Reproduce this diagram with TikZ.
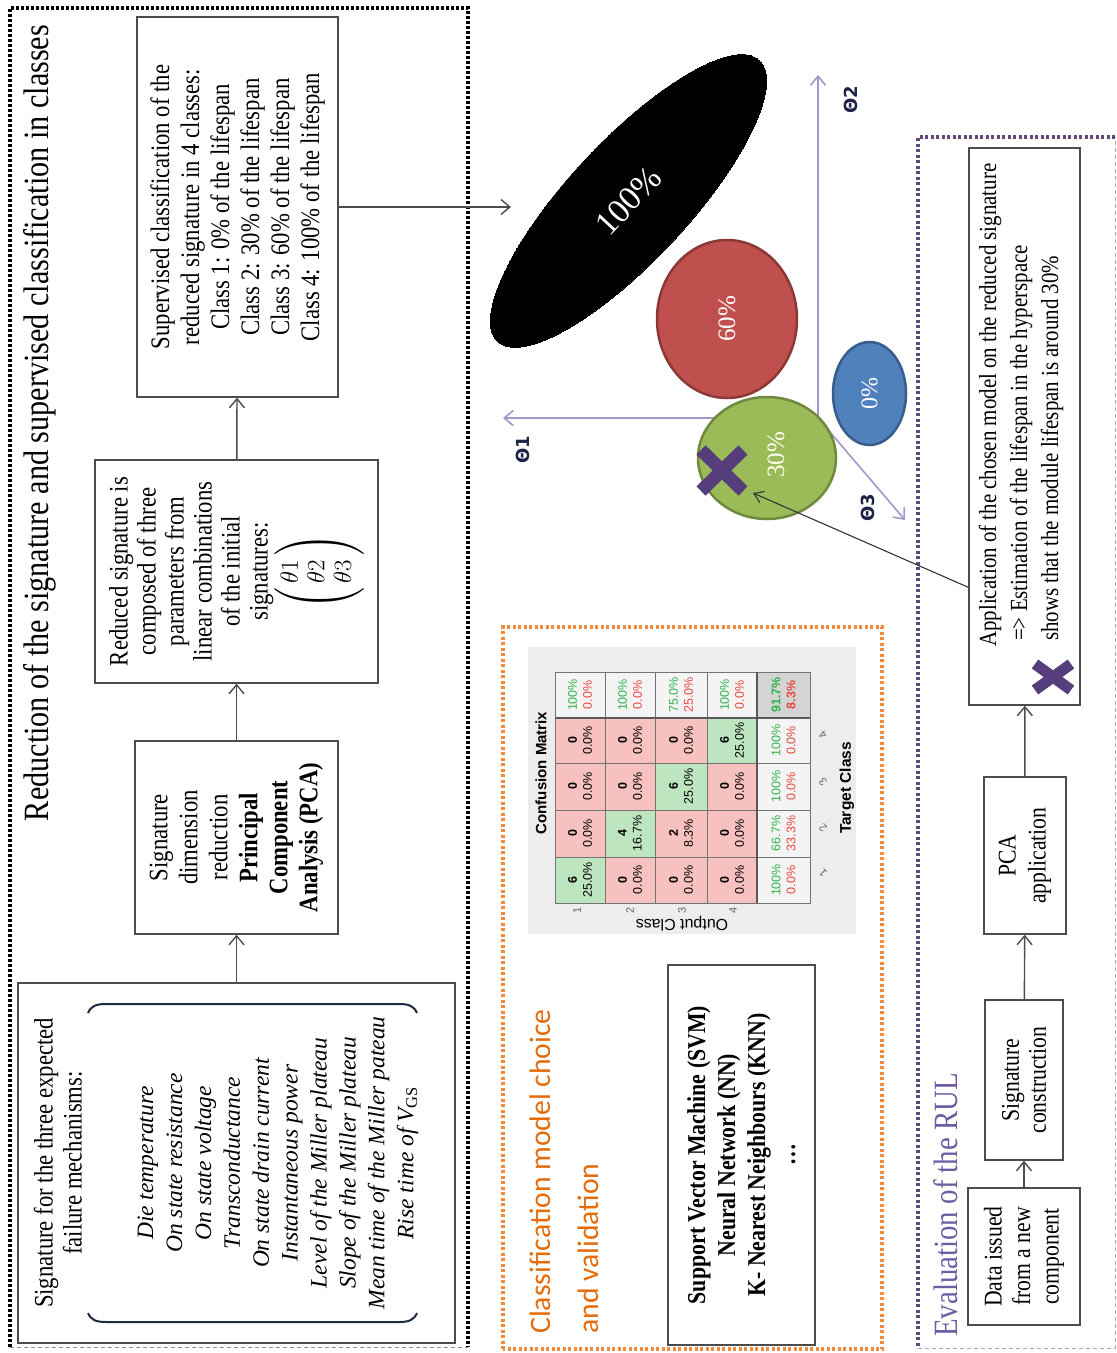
\documentclass[tikz,border=0pt]{standalone}
\usepackage{fontspec}
\usepackage{amsmath}
\setmainfont{Liberation Serif}
\newfontfamily\cond[FakeStretch=0.85]{Liberation Serif}
\newfontfamily\carl{Carlito}
\newfontfamily\lsans{Liberation Sans}
\newfontfamily\dvs{DejaVu Sans}
\usetikzlibrary{arrows.meta,calc,shapes.geometric}
\definecolor{frameO}{HTML}{F08A3C}
\definecolor{textO}{HTML}{E46C0A}
\definecolor{frameP}{HTML}{5F497A}
\definecolor{textP}{HTML}{6F5DA3}
\definecolor{axisP}{HTML}{A496C8}
\definecolor{crossP}{HTML}{563D7C}
\definecolor{redF}{HTML}{C0504D}
\definecolor{redD}{HTML}{8C3836}
\definecolor{greenF}{HTML}{9BBB59}
\definecolor{greenD}{HTML}{71893F}
\definecolor{blueF}{HTML}{4F81BD}
\definecolor{blueD}{HTML}{385D8A}
\definecolor{cmG}{HTML}{BDE5BF}
\definecolor{cmR}{HTML}{F6C1BE}
\definecolor{cmS}{HTML}{F4F4F4}
\definecolor{cmT}{HTML}{D4D4D4}
\definecolor{cmGt}{HTML}{2DB34A}
\definecolor{cmRt}{HTML}{E8463F}
\definecolor{thetaC}{HTML}{1E2347}
\definecolor{brkC}{HTML}{1F2A44}
\begin{document}
\begin{tikzpicture}[x=1pt,y=-1pt,
  box/.style={draw=black!70, line width=1.4pt, rotate=90, inner sep=0pt, align=center,
    font=\cond\fontsize{26.7}{30}\selectfont},
  arr/.style={draw=black!70, line width=1.4pt, -{Straight Barb[length=9pt,width=15pt]}},
  thinarr/.style={draw=black!80, line width=1.1pt, -{Straight Barb[length=9pt,width=12pt]}},
  axisline/.style={draw=axisP, line width=1.6pt, -{Straight Barb[length=9pt,width=15pt]}},
  rtext/.style={rotate=90, inner sep=0pt},
  thlab/.style={rotate=90, text=thetaC, font=\dvs\bfseries\fontsize{18}{18}\selectfont},
  blob/.style={ellipse, inner sep=0pt, line width=2.5pt},
  xmark/.style={draw=crossP, line width=13pt},
  cmtxt/.style={rotate=90, align=center, inner sep=0pt, font=\lsans\fontsize{12.5}{15}\selectfont},
  tick/.style={text=black!60, inner sep=0pt, font=\lsans\fontsize{11}{11}\selectfont},
  frameK/.style={draw=black, line width=3.5pt, dash pattern=on 3pt off 2pt},
  frameOr/.style={draw=frameO, line width=3.5pt, dash pattern=on 3pt off 2.5pt},
  framePu/.style={draw=frameP, line width=3.5pt, dash pattern=on 3pt off 2.5pt},
  thinframe/.style={line width=0.8pt, dash pattern=on 4pt off 3pt}
]
\useasboundingbox (0,0) rectangle (1117,1353);
\fill[white] (0,0) rectangle (1117,1353);

% ---------- frames ----------
\draw[frameK] (10,1347) -- (10,8) -- (468,8) -- (468,1347);
\draw[thinframe, draw=black!45] (10,1347) -- (468,1347);
\draw[frameOr] (503,1349) rectangle (882,627);
\draw[framePu] (1115,137) -- (918,137) -- (918,1348);
\draw[thinframe, draw=frameP!50] (918,1348) -- (1115,1348) -- (1115,137);

% ---------- left frame ----------
\node[rtext, font=\cond\fontsize{35.5}{40}\selectfont] (title) at (40,423)
  {Reduction of the signature and supervised classification in classes};

\node[box, minimum width=360pt, minimum height=437pt] (sig) at (236.5,1163) {};
\node[rtext, align=center, font=\cond\fontsize{26.7}{29}\selectfont] (sigtitle) at (58,1163)
  {Signature for the three expected\\failure mechanisms:};
\node[rtext, align=center, font=\itshape\fontsize{23.5}{28.9}\selectfont] (siglist) at (278,1163)
  {Die temperature\\On state resistance\\On state voltage\\Transconductance\\On state drain current\\Instantaneous power\\Level of the Miller plateau\\Slope of the Miller plateau\\Mean time of the Miller pateau\\Rise time of V\textsubscript{\upshape GS}};
\draw[draw=brkC, line width=2pt] (88,1013) .. controls (91,1006) and (96,1004) .. (106,1004) -- (399,1004) .. controls (409,1004) and (414,1006) .. (417,1013);
\draw[draw=brkC, line width=2pt] (88,1313) .. controls (91,1320) and (96,1322) .. (106,1322) -- (399,1322) .. controls (409,1322) and (414,1320) .. (417,1313);

\node[box, minimum width=193pt, minimum height=203pt] (dimred) at (236.5,837.5)
  {Signature\\dimension\\reduction\\\textbf{Principal}\\\textbf{Component}\\\textbf{Analysis (PCA)}};

\node[box, minimum width=223pt, minimum height=283pt, font=\cond\fontsize{26.7}{28}\selectfont] (reduced) at (236.5,571.5)
  {Reduced signature is\\composed of three\\parameters from\\linear combinations\\of the initial\\signatures:\\
   $\renewcommand\arraystretch{0.95}\left(\begin{array}{@{\,}c@{\,}}\theta 1\\ \theta 2\\ \theta 3\end{array}\right)$};

\node[box, minimum width=380pt, minimum height=201pt] (superv) at (237.5,207)
  {Supervised classification of the\\reduced signature in 4 classes:\\Class 1: 0\% of the lifespan\\Class 2: 30\% of the lifespan\\Class 3: 60\% of the lifespan\\Class 4: 100\% of the lifespan};

\draw[arr] (sig) -- (dimred);
\draw[arr] (dimred) -- (reduced);
\draw[arr] (reduced) -- (superv);
\coordinate (tipA) at (511,207);
\draw[arr] (superv) -- (tipA);

% ---------- hyperspace ----------
\coordinate (O) at (818,418);
\coordinate (t1) at (503,418);
\coordinate (t2) at (818,75);
\coordinate (t3) at (905,520);
\draw[axisline] (O) -- (t1);
\draw[axisline] (O) -- (t2);
\draw[axisline] (O) -- (t3);
\node[thlab] (th1) at (523,450) {Θ1};
\node[thlab] (th2) at (851,100) {Θ2};
\node[thlab] (th3) at (868,508) {Θ3};

\node[blob, fill=black, draw=black, line width=0pt, rotate=47, minimum width=384pt, minimum height=120pt,
  text=white, font=\fontsize{34}{34}\selectfont] (c100) at (628.5,201) {100\%};
\node[blob, fill=redF, draw=redD, rotate=90, minimum width=158pt, minimum height=140pt,
  text=white, font=\fontsize{25}{25}\selectfont] (c60) at (727,319) {60\%};
\node[blob, fill=blueF, draw=blueD, rotate=90, minimum width=103pt, minimum height=73pt,
  text=white, font=\fontsize{24}{24}\selectfont] (c0) at (869.5,393.5) {0\%};
\node[blob, fill=greenF, draw=greenD, rotate=90, minimum width=122pt, minimum height=138pt] (c30) at (767,458) {};
\node[rtext, text=white!92!yellow, font=\fontsize{25}{25}\selectfont] (c30t) at (776,455) {30\%};

\draw[xmark] (701,450) -- (743,491) (701,491) -- (743,450);

% ---------- classification model choice ----------
\node[rtext, anchor=west, text=textO, font=\carl\fontsize{29.7}{30}\selectfont] (orgt1) at (540,1334) {Classification model choice};
\node[rtext, anchor=west, text=textO, font=\carl\fontsize{29.7}{30}\selectfont] (orgt2) at (588,1334) {and validation};

\node[box, minimum width=380pt, minimum height=147pt, font=\cond\bfseries\fontsize{25.7}{30}\selectfont] (models) at (741.5,1155)
  {Support Vector Machine (SVM)\\Neural Network (NN)\\K- Nearest Neighbours (KNN)\\\dots};

% confusion matrix
\fill[black!7] (528,647) rectangle (856,934);
\foreach \xa/\xb [count=\r] in {555/605,605/655,655/707,707/757,757/810}{
  \foreach \ya/\yb [count=\c] in {857/903,810/857,763/810,718/763,672/718}{
    \ifnum\r=\c \def\cf{cmG}\else\def\cf{cmR}\fi
    \ifnum\r=5 \def\cf{cmS}\fi
    \ifnum\c=5 \def\cf{cmS}\fi
    \ifnum\r=5 \ifnum\c=5 \def\cf{cmT}\fi\fi
    \filldraw[fill=\cf, draw=black!55, line width=0.8pt] (\xa,\ya) rectangle (\xb,\yb);
  }
}
\draw[black!65, line width=2.5pt] (757,672) -- (757,903);
\draw[black!65, line width=2.5pt] (555,718) -- (810,718);
\foreach \x/\y/\n/\p [count=\k] in {580/880/6/25.0, 580/833.5/0/0.0, 580/786.5/0/0.0, 580/740.5/0/0.0,
  630/880/0/0.0, 630/833.5/4/16.7, 630/786.5/0/0.0, 630/740.5/0/0.0,
  681/880/0/0.0, 681/833.5/2/8.3, 681/786.5/6/25.0, 681/740.5/0/0.0,
  732/880/0/0.0, 732/833.5/0/0.0, 732/786.5/0/0.0, 732/740.5/6/25.0}
  \node[cmtxt] (cm\k) at (\x,\y) {\textbf{\n}\\\p\%};
\foreach \x/\y/\g/\b [count=\k] in {580/695/100/0.0, 630/695/100/0.0, 681/695/75.0/25.0, 732/695/100/0.0,
  783.5/880/100/0.0, 783.5/833.5/66.7/33.3, 783.5/786.5/100/0.0, 783.5/740.5/100/0.0}
  \node[cmtxt] (cms\k) at (\x,\y) {\textcolor{cmGt}{\g\%}\\\textcolor{cmRt}{\b\%}};
\node[cmtxt, font=\lsans\bfseries\fontsize{12.5}{15}\selectfont] (cmtot) at (783.5,695) {\textcolor{cmGt}{91.7\%}\\\textcolor{cmRt}{8.3\%}};
\node[rtext, font=\lsans\bfseries\fontsize{15}{15}\selectfont] (cmtitle) at (541,773) {Confusion Matrix};
\node[rtext, font=\lsans\bfseries\fontsize{15.5}{15}\selectfont] (cmtarget) at (847,788) {Target Class};
\node[rotate=180, inner sep=0pt, font=\lsans\fontsize{16}{16}\selectfont] (cmoutput) at (682,924) {Output Class};
\foreach \x [count=\i] in {577,630,682,733} \node[tick, rotate=90] (rt\i) at (\x,910) {\i};
\foreach \y [count=\i] in {873,828,782,735} \node[tick, rotate=135] (ct\i) at (823,\y) {\i};

% ---------- evaluation of the RUL ----------
\node[rtext, anchor=west, text=textP, font=\cond\fontsize{34}{34}\selectfont] (rultitle) at (946,1337) {Evaluation of the RUL};

\node[box, minimum width=137pt, minimum height=112pt, font=\cond\fontsize{25.5}{28.5}\selectfont] (data) at (1024,1256.5)
  {Data issued\\from a new\\component};
\node[box, minimum width=160pt, minimum height=78pt, font=\cond\fontsize{25.5}{27}\selectfont] (sigc) at (1024,1080)
  {Signature\\construction};
\node[box, minimum width=157pt, minimum height=82pt, font=\cond\fontsize{25.5}{30}\selectfont] (pca) at (1025,855.5)
  {PCA\\application};
\node[box, minimum width=557pt, minimum height=111pt] (app) at (1024.5,426.5) {};
\node[rtext, anchor=west, align=left, font=\cond\fontsize{24.6}{31}\selectfont] (apptext) at (1021,647)
  {Application of the chosen model on the reduced signature\\\hspace*{6pt}=> Estimation of the lifespan in the hyperspace\\\hspace*{6pt}shows that the module lifespan is around 30\%};
\draw[xmark, line width=11pt] (1035,664) -- (1071,690) (1035,690) -- (1071,664);

\draw[arr] (data) -- (sigc);
\draw[arr] (sigc) -- (pca);
\draw[arr] (pca) -- (app);
\coordinate (tipX) at (753,493);
\draw[thinarr] ($(app.north west)!0.212!(app.north east)$) -- (tipX);
\end{tikzpicture}
\end{document}
